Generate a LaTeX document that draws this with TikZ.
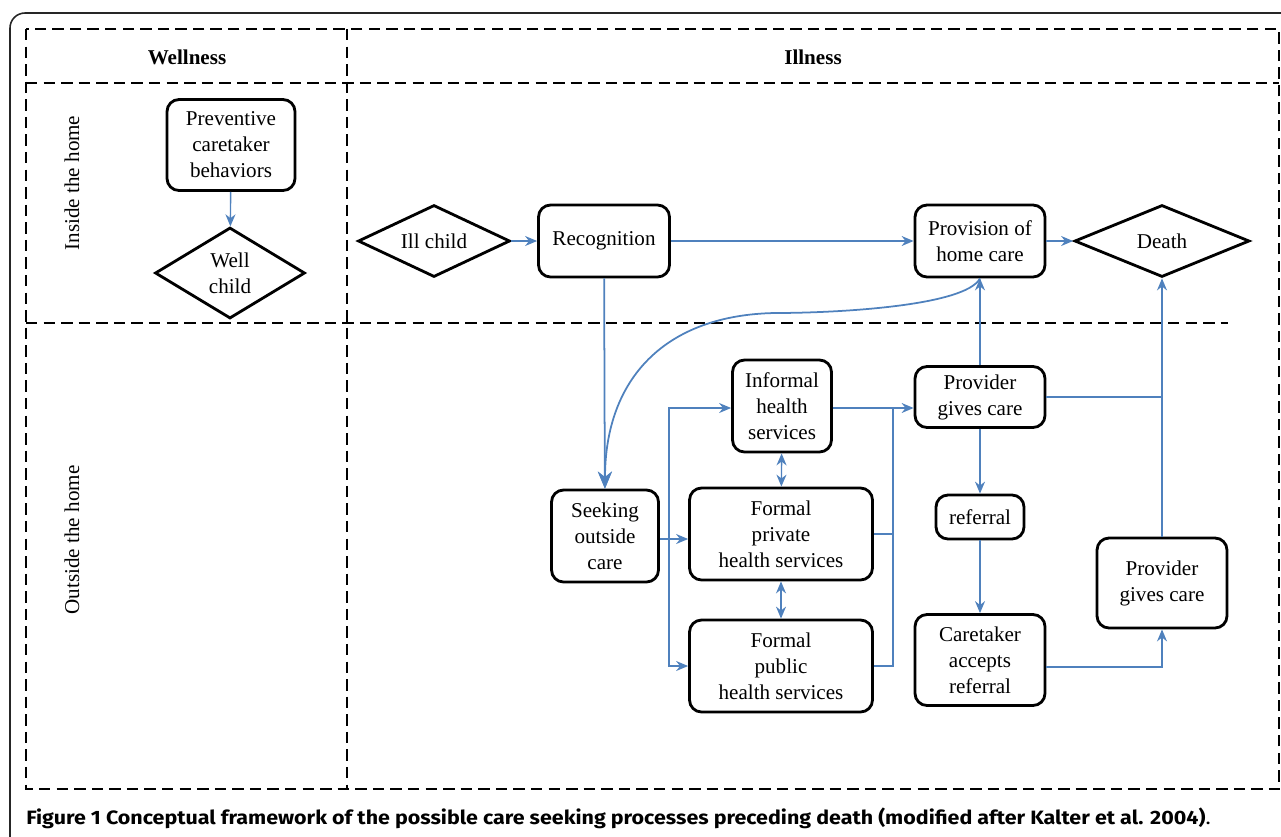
\documentclass[tikz,border=0pt]{standalone}
\usepackage{fontspec}
\setmainfont{Liberation Serif}
\newfontfamily\capfont{Fira Sans}
\usetikzlibrary{arrows.meta,shapes.geometric,calc}
\definecolor{flowblue}{RGB}{79,129,189}

\begin{document}
\begin{tikzpicture}[x=0.02cm,y=-0.02cm,
	box/.style={draw,line width=1.6pt,rounded corners=0.24cm,align=center,inner sep=1pt,font=\fontsize{12}{14.8}\selectfont},
	endstate/.style={draw,diamond,line width=1.6pt,align=center,inner sep=0pt,aspect=2,font=\fontsize{12}{14.8}\selectfont},
	flow/.style={draw=flowblue,line width=0.8pt,-{Stealth[length=2.4mm,width=2mm]}},
	twoway/.style={draw=flowblue,line width=0.8pt,{Stealth[length=2.4mm,width=2mm]}-{Stealth[length=2.4mm,width=2mm]}},
	bigflow/.style={draw=flowblue,line width=1pt,-{Stealth[length=3.4mm,width=2.8mm]}},
	lane/.style={dashed,dash pattern=on 6.5pt off 3.5pt,line width=1pt}]
		\clip (0,0) rectangle (1281,836);
		\draw[line width=0.9pt,rounded corners=0.3cm,black!85] (10,13) rectangle (1310,870);

		\draw[lane] (26,29) rectangle (1279,789);
		\draw[lane] (26,83) -- (1279,83);
		\draw[lane] (347,29) -- (347,789);
		\draw[lane] (26,323) -- (1228,323);

		\node (wellhead) at (187,57) {\fontsize{12}{14}\selectfont\bfseries Wellness};
		\node (illhead) at (813,57) {\fontsize{12}{14}\selectfont\bfseries Illness};
		\node[rotate=90] (inside) at (72,183) {\fontsize{12}{14}\selectfont Inside the home};
		\node[rotate=90] (outside) at (72,540) {\fontsize{12}{14}\selectfont Outside the home};

		\node[box,minimum width=2.56cm,minimum height=1.82cm] (prev) at (231,145) {Preventive\\caretaker\\behaviors};
		\node[endstate,minimum width=3cm,minimum height=1.82cm] (well) at (230,273) {Well\\child};
		\node[endstate,minimum width=3.04cm,minimum height=1.44cm] (ill) at (434,241) {Ill child};
		\node[box,minimum width=2.62cm,minimum height=1.44cm] (recog) at (604,241) {Recognition};
		\node[box,minimum width=2.6cm,minimum height=1.44cm] (homecare) at (980,241) {Provision of\\home care};
		\node[endstate,minimum width=3.5cm,minimum height=1.44cm] (death) at (1162,241) {Death};
		\node[box,minimum width=2.14cm,minimum height=1.84cm] (seeking) at (605,536) {Seeking\\outside\\care};
		\node[box,minimum width=1.98cm,minimum height=1.84cm] (informal) at (782,406) {Informal\\health\\services};
		\node[box,minimum width=3.66cm,minimum height=1.84cm] (private) at (781,534) {Formal\\private\\health services};
		\node[box,minimum width=3.66cm,minimum height=1.84cm] (public) at (781,666) {Formal\\public\\health services};
		\node[box,minimum width=2.6cm,minimum height=1.22cm] (givesA) at (980,397) {Provider\\gives care};
		\node[box,minimum width=1.76cm,minimum height=0.88cm] (referral) at (980,517) {referral};
		\node[box,minimum width=2.6cm,minimum height=1.82cm] (accepts) at (980,660) {Caretaker\\accepts\\referral};
		\node[box,minimum width=2.6cm,minimum height=1.8cm] (givesB) at (1162,583) {Provider\\gives care};

		\coordinate (bend) at (775,313);
		\coordinate (split) at (669,539);
		\coordinate (merge) at (893,408);

		\draw[flow] (prev) -- (well);
		\draw[flow] (ill) -- (recog);
		\draw[flow] (recog) -- (homecare);
		\draw[flow] (homecare) -- (death);
		\draw[bigflow] (recog) -- (seeking);
		\draw[bigflow] (homecare.south) .. controls +(-15,28) and +(60,0) .. (bend)
			.. controls +(-110,2) and +(0,-110) .. (seeking.north);
		\draw[flow] (givesA) -- (homecare);
		\draw[flow] (seeking.east |- split) -- (private.west |- split);
		\draw[flow] (split) |- (informal.west |- merge);
		\draw[flow] (split) |- (public.west);
		\draw[flow] (informal.east |- merge) -- (givesA.west |- merge);
		\draw[draw=flowblue,line width=0.8pt] (private.east) -| (merge) |- (public.east);
		\draw[twoway] (informal) -- (private);
		\draw[twoway] (private) -- (public);
		\draw[flow] (givesA) -- (referral);
		\draw[flow] (referral) -- (accepts);
		\draw[draw=flowblue,line width=0.8pt] (givesA.east) -- (givesA.east -| givesB.north);
		\draw[flow] (givesB) -- (death);
		\draw[flow] ([yshift=-0.14cm]accepts.east) -| (givesB.south);

		\node[anchor=west,inner sep=0pt] (caption) at (26,818) {\scalebox{1.11}[1]{\capfont\fontsize{11}{13}\selectfont\textbf{Figure 1 Conceptual framework of the possible care seeking processes preceding death (modified after Kalter et al. 2004)}.}};
	\end{tikzpicture}
\end{document}
